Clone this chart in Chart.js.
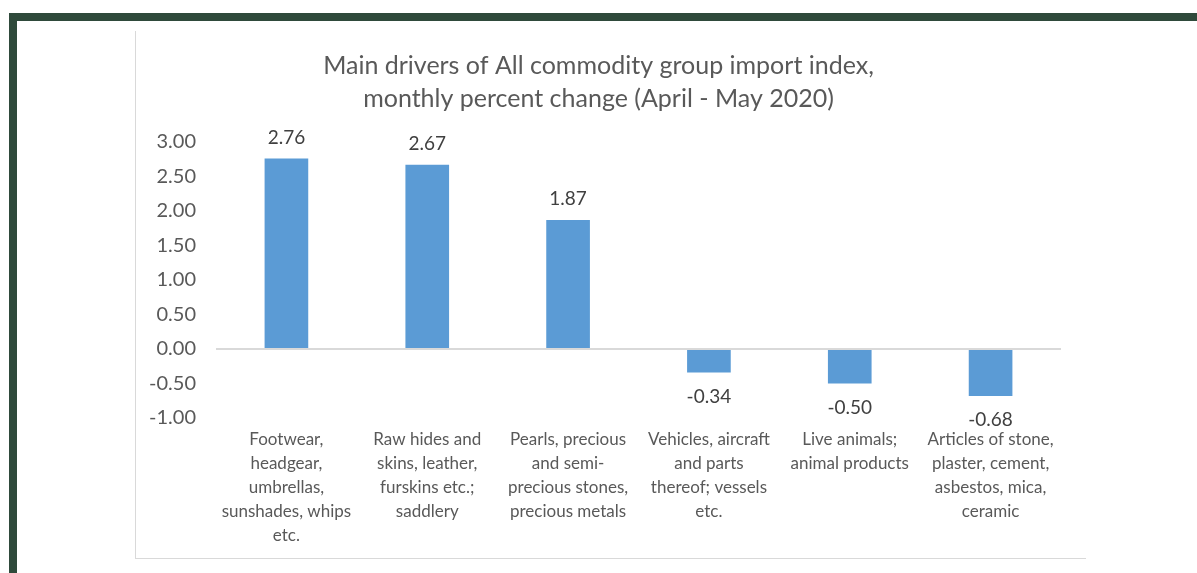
<!DOCTYPE html>
<html>
<head>
<meta charset="utf-8">
<script src="https://cdn.jsdelivr.net/npm/chart.js@4/dist/chart.umd.min.js"></script>
<style>
  html, body { margin: 0; padding: 0; background: #fff; }
  body { width: 1197px; height: 573px; position: relative; overflow: hidden; }
  .frame-top { position: absolute; left: 9px; top: 13px; width: 1188px; height: 8px; background: #2f4a3b; }
  .frame-left { position: absolute; left: 9px; top: 13px; width: 8px; height: 560px; background: #2f4a3b; }
  #box {
    position: absolute; left: 135px; top: 31px; width: 950px; height: 527px;
    border-left: 1px solid #d9d9d9; border-bottom: 1px solid #d9d9d9;
  }
</style>
</head>
<body>
<div class="frame-top"></div>
<div class="frame-left"></div>
<div id="box"><canvas id="importChart"></canvas></div>

<script>
// Dữ liệu biểu đồ
const categories = [
    ['Footwear,', 'headgear,', 'umbrellas,', 'sunshades, whips', 'etc.'],
    ['Raw hides and', 'skins, leather,', 'furskins etc.;', 'saddlery'],
    ['Pearls, precious', 'and semi-', 'precious stones,', 'precious metals'],
    ['Vehicles, aircraft', 'and parts', 'thereof; vessels', 'etc.'],
    ['Live animals;', 'animal products'],
    ['Articles of stone,', 'plaster, cement,', 'asbestos, mica,', 'ceramic']
];
const changeValues = [2.76, 2.67, 1.87, -0.34, -0.50, -0.68];
const yTicks = [3, 2.5, 2, 1.5, 1, 0.5, 0, -0.5, -1];

const chartTitle = [
    'Main drivers of All commodity group import index,',
    'monthly percent change (April - May 2020)'
];

const textFont = 'Lato, "Open Sans", sans-serif';

// Plugin vẽ nhãn giá trị trên/dưới cột
const valueLabels = {
    id: 'valueLabels',
    afterDatasetsDraw(chart) {
        const ctx = chart.ctx;
        const meta = chart.getDatasetMeta(0);
        ctx.save();
        ctx.font = '19px ' + textFont;
        ctx.fillStyle = '#404040';
        ctx.textAlign = 'center';
        ctx.textBaseline = 'middle';
        meta.data.forEach((bar, i) => {
            const v = changeValues[i];
            const y = v >= 0 ? bar.y - 21 : bar.y + 24;
            ctx.fillText(v.toFixed(2), bar.x, y);
        });
        ctx.restore();
    }
};

new Chart(document.getElementById('importChart'), {
    type: 'bar',
    data: {
        labels: categories,
        datasets: [{
            data: changeValues,
            backgroundColor: '#5b9bd5',
            barPercentage: 0.31,
            categoryPercentage: 1
        }]
    },
    options: {
        responsive: true,
        maintainAspectRatio: false,
        animation: false,
        layout: { padding: { top: 0, right: 25, bottom: 0, left: 0 } },
        scales: {
            x: {
                grid: { display: false, drawTicks: false },
                border: { display: false },
                ticks: {
                    color: '#595959',
                    font: { family: textFont, size: 17, lineHeight: 1.41 },
                    padding: 10,
                    maxRotation: 0,
                    autoSkip: false
                },
                afterFit: s => { s.height = 140; }
            },
            y: {
                min: -1,
                max: 3,
                afterBuildTicks: s => { s.ticks = yTicks.map(v => ({ value: v })); },
                grid: {
                    drawTicks: false,
                    color: c => (c.tick && c.tick.value === 0 ? '#d9d9d9' : 'rgba(0,0,0,0)'),
                    lineWidth: 2
                },
                border: { display: false },
                ticks: {
                    color: '#595959',
                    font: { family: textFont, size: 20 },
                    padding: 20,
                    callback: v => v.toFixed(2)
                },
                afterFit: s => { s.width = 80; }
            }
        },
        plugins: {
            legend: { display: false },
            tooltip: { enabled: false },
            title: {
                display: true,
                text: chartTitle,
                color: '#595959',
                font: { family: textFont, size: 25, weight: 'normal', lineHeight: 1.32 },
                padding: { top: 18, bottom: 27 }
            }
        }
    },
    plugins: [valueLabels]
});
</script>
</body>
</html>
